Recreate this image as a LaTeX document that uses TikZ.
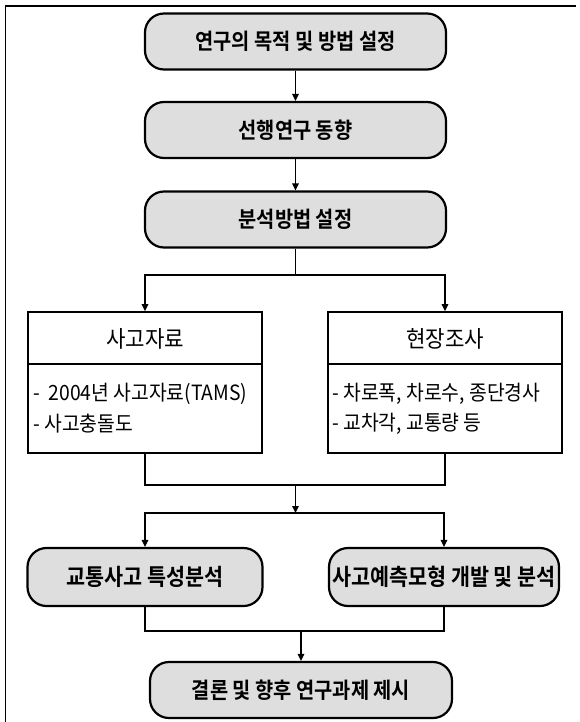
\documentclass[tikz,border=0pt]{standalone}
\usepackage{fontspec}
\setmainfont{Noto Sans CJK KR}
\usetikzlibrary{arrows.meta}
\newfontfamily\boxfont{Noto Sans CJK KR Bold}[FakeStretch=0.9]
\newfontfamily\rectfont{Noto Sans CJK KR}[FakeStretch=0.92]
\tikzset{
  pill/.style={draw, line width=2.2pt, rounded corners=19pt, fill=black!13,
    minimum height=56pt, inner sep=0pt, font=\boxfont\fontsize{22}{24}\selectfont},
  sqbox/.style={draw, line width=1.6pt, minimum width=234pt, minimum height=141pt, inner sep=0pt},
  ttl/.style={font=\rectfont\fontsize{23}{25}\selectfont, inner sep=0pt},
  bodyline/.style={font=\rectfont\fontsize{21}{23}\selectfont, inner sep=0pt, anchor=west},
  conn/.style={line width=1.3pt},
  arr/.style={line width=1.3pt, -{Triangle[length=7pt,width=6.5pt]}},
}
\begin{document}
\begin{tikzpicture}[x=1pt,y=-1pt]
\useasboundingbox (0,0) rectangle (580,722);
% outer frame (top and left visible)
\draw[line width=1.2pt] (576,6) -- (5.5,6) -- (5.5,722);

\node[pill, minimum width=301pt] (b1) at (295.5,41.5) {연구의 목적 및 방법 설정};
\node[pill, minimum width=301pt] (b2) at (295.5,130) {선행연구 동향};
\node[pill, minimum width=301pt] (b3) at (295.5,219.5) {분석방법 설정};

\draw[arr] (b1.south) -- (b2.north);
\draw[arr] (b2.south) -- (b3.north);

\node[sqbox] (lr) at (145,382.5) {};
\node[sqbox] (rr) at (445,382.5) {};
\draw[line width=1.6pt] (lr.west |- 0,364) -- (lr.east |- 0,364);
\draw[line width=1.6pt] (rr.west |- 0,364) -- (rr.east |- 0,364);
\node[ttl] (lt) at (145,339) {사고자료};
\node[ttl] (rt) at (445,339) {현장조사};
\node[bodyline] (l1) at (33,394) {-\ \ 2004년 사고자료(TAMS)};
\node[bodyline] (l2) at (33,424) {- 사고충돌도};
\node[bodyline] (r1) at (332,394) {- 차로폭, 차로수, 종단경사};
\node[bodyline] (r2) at (332,424) {- 교차각, 교통량 등};

\coordinate (s1) at (295.5,275);
\draw[conn] (b3.south) -- (s1);
\draw[arr] (s1) -| (lr.north);
\draw[arr] (s1) -| (rr.north);

\coordinate (j1) at (295.5,485);
\coordinate (s2) at (295.5,513);
\draw[conn] (lr.south) |- (j1) -| (rr.south);
\draw[arr] (j1) -- (s2);

\node[pill, minimum width=235pt, minimum height=58pt, font=\boxfont\fontsize{23}{25}\selectfont] (c1) at (145,577) {교통사고 특성분석};
\node[pill, minimum width=230pt, minimum height=58pt, font=\boxfont\fontsize{23}{25}\selectfont] (c2) at (444,577) {사고예측모형 개발 및 분석};
\draw[arr] (s2) -| (c1.north);
\draw[arr] (s2) -| (c2.north);

\node[pill, minimum width=302pt] (d) at (301,690) {결론 및 향후 연구과제 제시};
\coordinate (j2) at (301,631);
\draw[conn] (c1.south) |- (j2) -| (c2.south);
\draw[arr] (j2) -- (d.north);
\end{tikzpicture}
\end{document}
